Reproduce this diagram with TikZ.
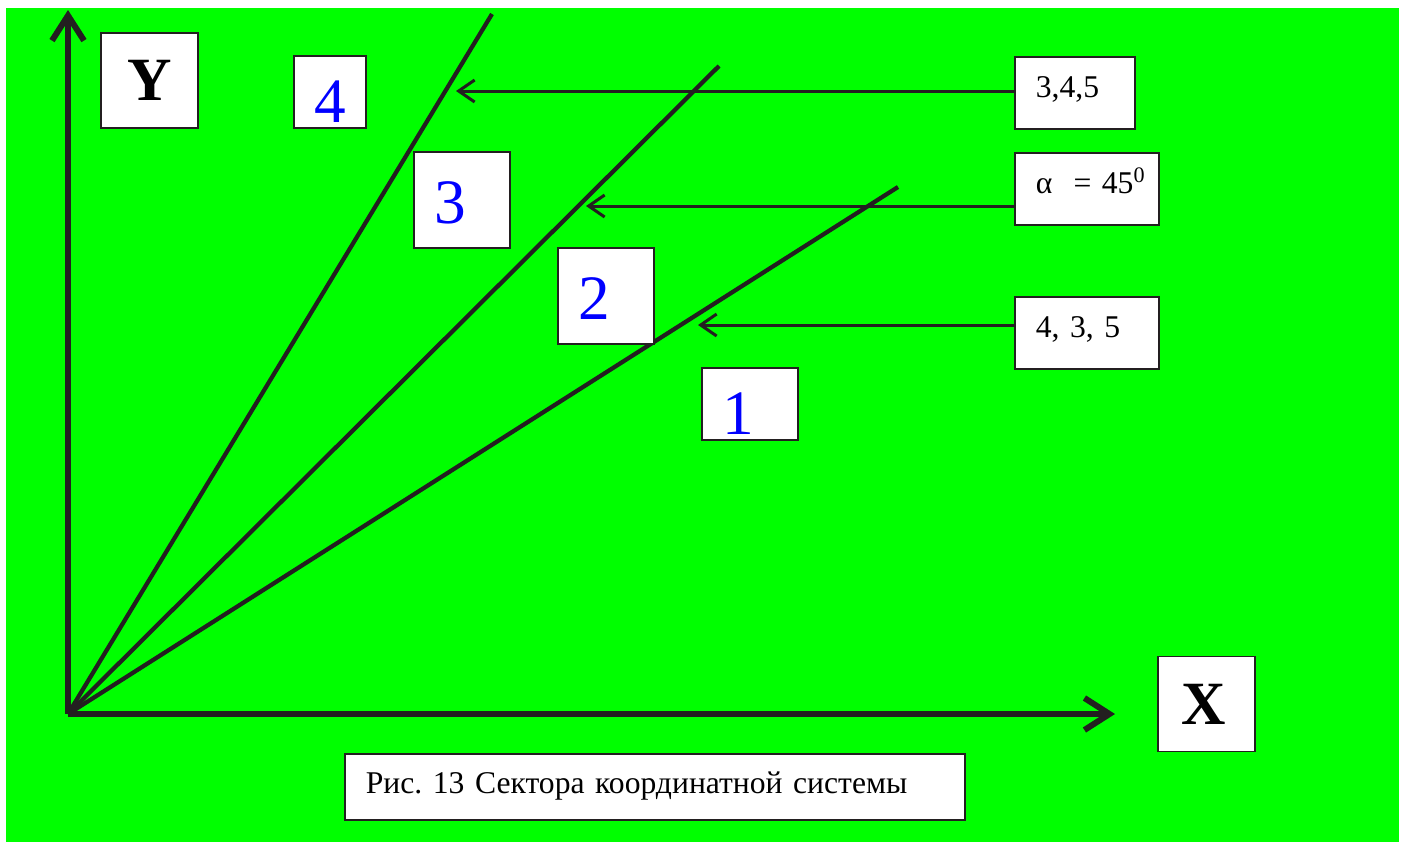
\documentclass[tikz,border=0pt]{standalone}
\usepackage{fontspec}
\setmainfont{Liberation Serif}
\usepackage{xcolor}
\usepackage{tikz}
\usetikzlibrary{arrows.meta,positioning}
\definecolor{fieldgreen}{HTML}{00FF00}
\definecolor{inkblack}{HTML}{231F20}
\definecolor{sectorblue}{HTML}{0000FF}
\frenchspacing

\begin{document}
\begin{tikzpicture}[
    x=0.2mm, y=-0.2mm,
    axis/.style={-{Straight Barb[length=5mm,width=6.4mm]}, draw=inkblack,
                 line width=1.2mm},
    ray/.style={draw=inkblack, line width=0.85mm},
    pointer/.style={-{Straight Barb[length=3.2mm,width=4.4mm]}, draw=inkblack,
                 line width=0.6mm},
    letterbox/.style={draw=inkblack, fill=white, line width=0.35mm,
                 inner sep=0pt, minimum width=1.94cm, minimum height=1.9cm,
                 font=\fontsize{35}{40}\selectfont\bfseries},
    sectorbox/.style={draw=inkblack, fill=white, line width=0.35mm,
                 inner sep=0pt, text=sectorblue, text height=0.94cm,
                 text depth=0pt, font=\fontsize{36}{40}\selectfont},
    infobox/.style={draw=inkblack, fill=white, line width=0.35mm,
                 anchor=north west, align=left, inner xsep=0.42cm,
                 inner ysep=0pt, text height=0.82cm, text depth=0.62cm,
                 font=\fontsize{18}{22}\selectfont}]
  \useasboundingbox (0,0) rectangle (1402,842);
  \fill[white] (0,0) rectangle (1402,842);
  \fill[fieldgreen] (6,8) rectangle (1399,842);

  \coordinate (O) at (68,714);
  \coordinate (yend) at (68,10);
  \coordinate (xend) at (1115,714);
  \coordinate (e1) at (898,187);
  \coordinate (e2) at (719,66);
  \coordinate (e3) at (492,14);
  \coordinate (t1) at (698,325);
  \coordinate (t2) at (586,206);
  \coordinate (t3) at (456,91);

  \draw[ray] (O) -- (e1);
  \draw[ray] (O) -- (e2);
  \draw[ray] (O) -- (e3);
  \draw[axis] (O) -- (yend);
  \draw[axis] (O) -- (xend);

  \node[letterbox] (ylab) at (149.5,80.5) {Y};
  \node[letterbox] (xlab) at (1206.5,704) {X\hspace*{0.12cm}};
  \node[sectorbox, minimum width=1.44cm, minimum height=1.44cm,
        text height=1.22cm] (s4) at (330,92) {4};
  \node[sectorbox, minimum width=1.92cm, minimum height=1.92cm]
        (s3) at (462,200) {3\hspace*{0.48cm}};
  \node[sectorbox, minimum width=1.92cm, minimum height=1.92cm]
        (s2) at (606,296) {2\hspace*{0.48cm}};
  \node[sectorbox, minimum width=1.92cm, minimum height=1.44cm,
        text height=1.22cm] (s1) at (750,404) {1\hspace*{0.48cm}};

  \node[infobox, text width=1.56cm] (n345) at (1014,56) {3,4,5};
  \node[infobox, text width=2.04cm] (nalpha) at (1014,152)
        {\mbox{α\ \ = 45\textsuperscript{0}}};
  \node[infobox, text width=2.04cm] (n435) at (1014,296) {4, 3, 5};
  \node[infobox, text width=11.56cm, text height=0.8cm, text depth=0.52cm]
        (caption) at (344,753) {Рис. 13 Сектора координатной системы};

  \draw[pointer] (t3 -| n345.west) -- (t3);
  \draw[pointer] (t2 -| nalpha.west) -- (t2);
  \draw[pointer] (t1 -| n435.west) -- (t1);
\end{tikzpicture}
\end{document}
